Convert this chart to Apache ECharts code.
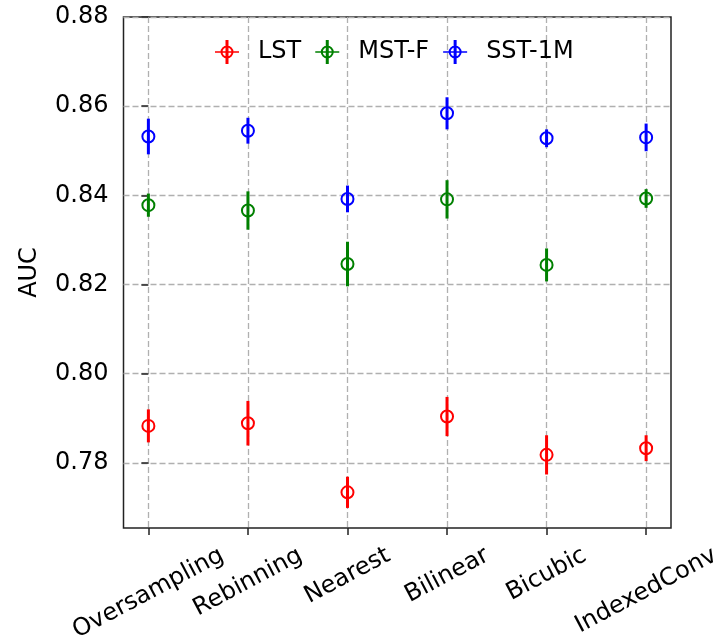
<!DOCTYPE html>
<html>
<head>
<meta charset="utf-8">
<script src="https://cdn.jsdelivr.net/npm/echarts@6/dist/echarts.min.js"></script>
<style>
  html, body { margin: 0; padding: 0; background: #fff; }
  #chart { width: 726px; height: 640px; }
</style>
</head>
<body>
<div id="chart"></div>
<script>
// Interpolation methods compared
const categories = ['Oversampling', 'Rebinning', 'Nearest', 'Bilinear', 'Bicubic', 'IndexedConv'];

// Mean AUC and its uncertainty per method
const lstAuc = [0.7883, 0.7889, 0.7734, 0.7904, 0.7818, 0.7833];
const lstErr = [0.0037, 0.0050, 0.0035, 0.0044, 0.0044, 0.0029];
const mstAuc = [0.8378, 0.8366, 0.8246, 0.8391, 0.8244, 0.8393];
const mstErr = [0.0026, 0.0043, 0.0050, 0.0043, 0.0037, 0.0021];
const sstAuc = [0.8532, 0.8545, 0.8392, 0.8584, 0.8528, 0.8530];
const sstErr = [0.0040, 0.0029, 0.0030, 0.0036, 0.0020, 0.0031];

const seriesNames = ['LST', 'MST-F', 'SST-1M'];
const yTicks = [0.78, 0.80, 0.82, 0.84, 0.86, 0.88];

const FONT = 'DejaVu Sans';
const FS = 24;
const ROT = 28;

// Rotated tick labels are centred under their tick with the top of the
// rotated box at a fixed distance from the axis; longer labels hang lower.
const measureCtx = document.createElement('canvas').getContext('2d');
measureCtx.font = FS + 'px "' + FONT + '"';
const sinR = Math.sin(ROT * Math.PI / 180), cosR = Math.cos(ROT * Math.PI / 180);
const rich = {};
categories.forEach((c, i) => {
  const w = measureCtx.measureText(c).width;
  const d = w * sinR / 2;
  const s = d * cosR, t = d * sinR;
  rich['c' + i] = {
    fontFamily: FONT, fontSize: FS, color: '#000',
    padding: [2 * s, 2 * t, 0, 0]
  };
});

const errIcon = 'path://M0 11.2H24V12.8H0Z M10.5 0H13.5V24H10.5Z ' +
  'M5.5 12A6.5 6.5 0 1 1 18.5 12A6.5 6.5 0 1 1 5.5 12Z ' +
  'M7.5 12A4.5 4.5 0 1 0 16.5 12A4.5 4.5 0 1 0 7.5 12Z';

function errorSeries(name, color, vals, errs) {
  return {
    type: 'custom',
    name: name,
    data: vals.map((v, i) => [i, v, errs[i]]),
    encode: { x: 0, y: 1 },
    itemStyle: { color: color },
    clip: false,
    renderItem: function (params, api) {
      const x = api.value(0), y = api.value(1), e = api.value(2);
      const c = api.coord([x, y]);
      const lo = api.coord([x, y - e]);
      const hi = api.coord([x, y + e]);
      return {
        type: 'group',
        children: [
          { type: 'line', shape: { x1: lo[0], y1: lo[1], x2: hi[0], y2: hi[1] },
            style: { stroke: color, lineWidth: 3 } },
          { type: 'circle', shape: { cx: c[0], cy: c[1], r: 6 },
            style: { fill: 'none', stroke: color, lineWidth: 2 } }
        ]
      };
    }
  };
}

const chart = echarts.init(document.getElementById('chart'), null, { renderer: 'canvas' });
chart.setOption({
  animation: false,
  backgroundColor: '#fff',
  textStyle: { fontFamily: FONT },
  grid: {
    left: 123.5, right: 55, top: 17, bottom: 112,
    outerBoundsMode: 'none', containLabel: false,
    show: true, borderColor: '#222', borderWidth: 1.5, backgroundColor: 'transparent'
  },
  legend: {
    left: 210, top: 35,
    itemWidth: 24, itemHeight: 24, itemGap: 14,
    data: seriesNames.map(n => ({ name: n, icon: errIcon })),
    textStyle: { fontFamily: FONT, fontSize: FS, color: '#000', padding: [0, 0, 0, 14] }
  },
  xAxis: {
    type: 'value',
    min: -0.25, max: categories.length - 0.75,
    axisLine: { show: false },
    axisTick: { show: true, inside: false, length: 7, customValues: categories.map((c, i) => i),
                lineStyle: { color: '#222', width: 1.5 } },
    splitLine: { show: true, lineStyle: { color: '#b0b0b0', width: 1.3, type: [6, 3] } },
    axisLabel: {
      customValues: categories.map((c, i) => i),
      rotate: ROT, align: 'center', verticalAlign: 'middle', margin: 26,
      hideOverlap: false,
      formatter: v => {
        const i = Math.round(v);
        return '{c' + i + '|' + categories[i] + '}';
      },
      rich: rich
    }
  },
  yAxis: {
    type: 'value',
    min: 0.7654, max: 0.88,
    name: 'AUC', nameLocation: 'middle', nameGap: 82, nameRotate: 90,
    nameTextStyle: { fontFamily: FONT, fontSize: FS, color: '#000' },
    axisLine: { show: false },
    axisTick: { show: true, inside: false, length: 7, customValues: yTicks,
                lineStyle: { color: '#222', width: 1.5 } },
    splitLine: { show: true, lineStyle: { color: '#b0b0b0', width: 1.3, type: [6, 3] } },
    axisLabel: {
      customValues: yTicks, margin: 15,
      fontFamily: FONT, fontSize: FS, color: '#000',
      formatter: v => v.toFixed(2)
    }
  },
  series: [
    errorSeries(seriesNames[0], '#ff0000', lstAuc, lstErr),
    errorSeries(seriesNames[1], '#008000', mstAuc, mstErr),
    errorSeries(seriesNames[2], '#0000ff', sstAuc, sstErr)
  ]
});
</script>
</body>
</html>
